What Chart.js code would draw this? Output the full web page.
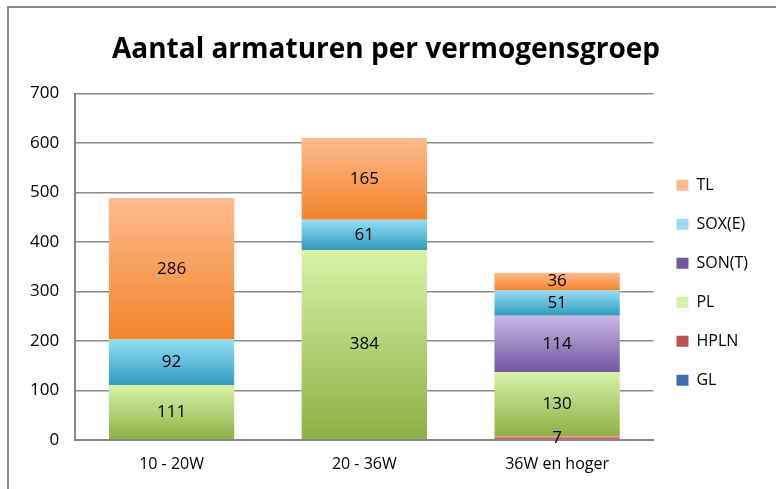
<!DOCTYPE html>
<html>
<head>
<meta charset="utf-8">
<script src="https://cdn.jsdelivr.net/npm/chart.js@4.4.0/dist/chart.umd.min.js"></script>
<style>
  html, body { margin: 0; padding: 0; background: #fff; }
  #wrap { position: relative; width: 776px; height: 489px; }
  #frame { position: absolute; left: 7px; top: 6px; width: 800px; height: 500px; border: 2px solid #8c8c8c; box-sizing: border-box; }
  canvas { position: absolute; left: 0; top: 0; }
</style>
</head>
<body>
<div id="wrap">
  <div id="frame"></div>
  <canvas id="chart" width="776" height="489"></canvas>
</div>
<script>
// Categories and series
const categories = ['10 - 20W', '20 - 36W', '36W en hoger'];
const glValues   = [0, 0, 0];
const hplnValues = [0, 0, 7];
const plValues   = [111, 384, 130];
const sonValues  = [0, 0, 114];
const soxValues  = [92, 61, 51];
const tlValues   = [286, 165, 36];
const yTicks = [0, 100, 200, 300, 400, 500, 600, 700];

// gradient colours per series: [top, bottom]
const seriesColors = {
    'GL':     ['#86abe0', '#3d6db3'],
    'HPLN':   ['#ee8f8c', '#c0504d'],
    'PL':     ['#d8f3a8', '#8cb045'],
    'SON(T)': ['#c8b8e2', '#7356a2'],
    'SOX(E)': ['#96def6', '#2f9bbd'],
    'TL':     ['#fdbb8e', '#f4832a']
};

const FONT = "'Open Sans', 'DejaVu Sans', sans-serif";

/**
 * Vertical gradient for each stacked segment
 */
function segmentFill(name) {
    return function(ctx) {
        const cols = seriesColors[name];
        if (ctx.type !== 'data') return cols[1];
        const chart = ctx.chart;
        const yScale = chart.scales.y;
        if (!yScale || !chart.chartArea) return cols[1];
        let start = 0;
        for (let d = 0; d < ctx.datasetIndex; d++) {
            start += chart.data.datasets[d].data[ctx.dataIndex];
        }
        const v = chart.data.datasets[ctx.datasetIndex].data[ctx.dataIndex];
        const top = yScale.getPixelForValue(start + v);
        const bottom = yScale.getPixelForValue(start);
        if (!(bottom - top > 0)) return cols[1];
        const g = chart.ctx.createLinearGradient(0, top, 0, bottom);
        g.addColorStop(0, cols[0]);
        g.addColorStop(1, cols[1]);
        return g;
    };
}

function makeDataset(label, values) {
    return {
        label: label,
        data: values,
        backgroundColor: segmentFill(label),
        borderWidth: 0,
        barPercentage: 0.65,
        categoryPercentage: 1.0
    };
}

// value labels centred in every non-zero segment
const segmentLabels = {
    id: 'segmentLabels',
    afterDatasetsDraw(chart) {
        const ctx = chart.ctx;
        ctx.save();
        ctx.font = '17px ' + FONT;
        ctx.fillStyle = '#000';
        ctx.textAlign = 'center';
        ctx.textBaseline = 'middle';
        chart.data.datasets.forEach((ds, di) => {
            const meta = chart.getDatasetMeta(di);
            meta.data.forEach((el, i) => {
                const v = ds.data[i];
                if (!v) return;
                ctx.fillText(String(v), el.x, (el.y + el.base) / 2);
            });
        });
        ctx.restore();
    }
};

const canvas = document.getElementById('chart');
new Chart(canvas.getContext('2d'), {
    type: 'bar',
    data: {
        labels: categories,
        datasets: [
            makeDataset('GL', glValues),
            makeDataset('HPLN', hplnValues),
            makeDataset('PL', plValues),
            makeDataset('SON(T)', sonValues),
            makeDataset('SOX(E)', soxValues),
            makeDataset('TL', tlValues)
        ]
    },
    options: {
        responsive: false,
        animation: false,
        layout: { padding: { left: 14, right: 18, bottom: 0 } },
        plugins: {
            title: {
                display: true,
                text: 'Aantal armaturen per vermogensgroep',
                color: '#000',
                font: { family: FONT, size: 28, weight: 'bold' },
                padding: { top: 33, bottom: 27 }
            },
            legend: {
                position: 'right',
                reverse: true,
                title: {
                    display: true,
                    text: ' ',
                    font: { size: 12 },
                    padding: 31
                },
                labels: {
                    color: '#000',
                    font: { family: FONT, size: 16 },
                    boxWidth: 12,
                    boxHeight: 11,
                    padding: 23
                }
            },
            tooltip: { enabled: false }
        },
        scales: {
            x: {
                stacked: true,
                grid: { display: false, drawTicks: false },
                border: { color: '#868686', width: 2 },
                ticks: { color: '#000', font: { family: FONT, size: 16 }, padding: 15 }
            },
            y: {
                stacked: true,
                min: 0,
                max: 700,
                afterBuildTicks: (axis) => { axis.ticks = yTicks.map(v => ({ value: v })); },
                grid: { color: '#8c8c8c', lineWidth: 1.5, drawTicks: false },
                border: { color: '#868686', width: 2 },
                ticks: { color: '#000', font: { family: FONT, size: 17 }, padding: 16 }
            }
        }
    },
    plugins: [segmentLabels]
});
</script>
</body>
</html>
